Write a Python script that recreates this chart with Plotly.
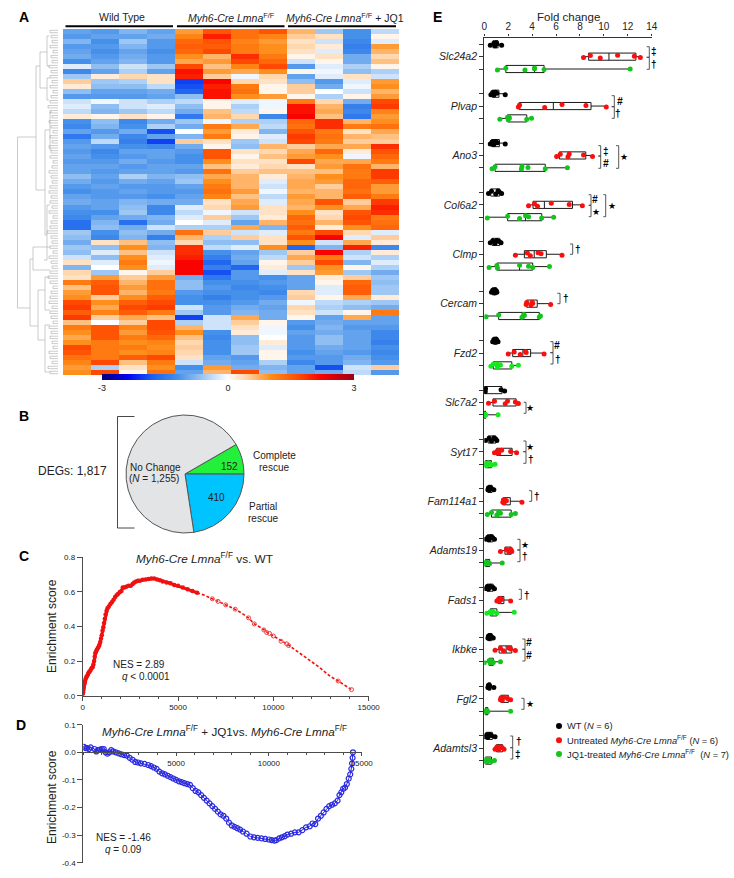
import numpy as np
import plotly.graph_objects as go

W, H = 734, 878
FONT = "Liberation Sans"
INK = "#222222"
AXIS = "#4d4d4d"

# ---------- Panel A: heat map values, one row per band, top to bottom ----------
heat_columns = ["WT1", "WT2", "WT3", "WT4", "M1", "M2", "M3", "M4", "J1", "J2", "J3", "J4"]
heat_rows = [
    [-1.0,-1.1,-0.8,-1.0, 0.9,1.6,1.3,1.6, 0.7,-0.6,-1.2,-0.4],
    [-1.1,-1.0,-1.0,-0.9, 1.1,2.0,1.3,1.1, 0.5,0.3,-1.2,0.1],
    [-0.8,-1.2,-0.6,-1.1, 1.4,1.6,1.1,0.9, 0.3,-0.3,-1.3,-0.2],
    [-1.1,-1.1,-0.8,-1.1, 1.5,1.5,1.2,1.0, 0.4,0.2,-1.4,0.9],
    [-1.0,-1.2,-1.0,-1.2, 1.4,1.7,1.2,1.0, 0.3,-0.2,-1.3,0.7],
    [-0.9,-1.1,-0.9,-1.1, 1.0,0.7,1.9,1.2, 0.1,0.3,-0.9,0.4],
    [-1.2,-1.0,-0.8,-1.1, 0.8,0.9,1.7,1.4, -0.3,0.1,-0.9,0.6],
    [-0.2,-0.7,-0.3,-0.6, 1.7,0.6,1.1,1.7, -1.1,-0.2,-0.5,0.1],
    [-1.3,-1.0,-0.5,-1.0, 2.1,0.9,0.8,1.0, 0.1,-0.1,-0.7,-0.5],
    [-0.6,0.2,0.4,0.3, 2.0,0.5,-0.1,0.4, -1.0,-0.2,0.3,-0.3],
    [0.5,-0.6,-0.5,0.3, -2.0,2.2,0.4,0.3, -0.7,-1.1,-0.2,0.9],
    [0.2,-0.7,-0.7,-0.4, -1.9,2.0,1.2,0.1, 0.5,-0.9,-0.1,1.0],
    [-0.7,-1.0,-1.0,-0.9, -1.7,2.1,1.3,0.1, 0.5,0.0,-0.3,0.7],
    [-1.1,-1.1,-1.1,-1.0, -0.7,2.1,1.0,0.9, 0.1,-0.5,0.1,0.9],
    [-0.3,-0.1,-0.3,-0.5, -0.4,0.1,-0.2,-0.1, 1.2,0.4,-0.9,1.7],
    [-0.2,-0.7,-0.3,-0.2, -0.7,0.1,-0.5,-0.1, 2.1,0.7,-1.4,1.8],
    [-0.4,-0.8,-0.6,-0.4, -0.9,0.6,-0.4,0.1, 2.1,0.8,-1.3,1.1],
    [0.2,0.1,0.3,0.1, -1.5,0.7,0.4,-1.3, 2.2,0.6,-1.5,0.9],
    [-1.2,-0.7,-1.3,-0.9, -0.6,-0.1,-0.5,-0.5, 1.4,1.9,0.7,1.0],
    [-1.3,-0.8,-1.2,-0.5, -0.9,1.2,0.8,-0.4, 1.3,1.9,1.2,1.3],
    [-1.0,-1.1,-0.9,-1.9, 0.0,0.9,0.2,-0.8, 1.6,1.2,0.3,0.8],
    [-1.5,-0.9,-1.3,-1.0, -0.8,1.2,0.1,-0.2, 1.8,1.3,0.7,0.6],
    [-1.1,-0.4,-1.4,-2.0, 0.5,0.3,-0.6,-0.3, 1.7,1.2,0.5,0.5],
    [-1.0,-1.1,-1.2,-1.3, -0.9,0.1,-0.7,0.7, 0.5,0.8,0.8,1.9],
    [-1.1,-1.3,-1.0,-1.0, -1.1,1.6,0.3,0.4, 0.8,1.4,0.2,1.6],
    [-1.0,-1.2,-1.1,-1.0, -1.2,1.6,0.1,0.6, 0.9,1.0,-0.1,1.4],
    [-1.1,-1.1,-0.9,-1.1, -1.2,1.0,0.3,0.3, 1.7,0.8,0.8,1.2],
    [-1.0,-1.0,-1.1,-1.0, -1.0,0.6,0.2,0.4, 0.3,0.9,1.3,0.7],
    [-1.0,-1.1,-1.0,-1.0, -1.1,1.3,0.5,0.6, 0.6,0.6,1.2,1.8],
    [-0.7,-1.0,-0.5,-0.8, -0.7,0.8,0.7,0.2, 0.7,1.0,1.2,1.8],
    [-0.9,-1.1,-0.9,-1.0, -0.6,1.0,0.7,-0.2, 0.8,0.9,1.4,1.5],
    [-1.1,-1.0,-1.1,-1.1, -1.0,1.2,0.7,-0.3, 0.8,0.5,1.4,0.9],
    [-1.2,-1.1,-1.0,-1.1, -1.1,1.3,0.9,-0.1, 0.7,0.7,1.3,0.9],
    [-1.0,-1.1,-1.1,-1.2, -1.0,1.1,0.6,-0.4, 0.9,0.7,1.5,1.2],
    [-0.9,-1.0,-0.8,-0.9, -0.9,0.3,0.8,-0.2, 0.8,1.6,0.5,1.8],
    [-1.1,-1.0,-0.7,-1.3, -0.2,0.4,0.9,0.3, 0.7,1.0,0.8,2.0],
    [-1.2,-1.2,-0.6,-1.3, -0.4,-0.1,-0.3,0.3, 1.0,0.3,1.6,1.9],
    [-1.3,-1.0,-0.9,-0.8, -0.2,0.5,-0.6,0.2, 1.4,0.4,1.7,1.2],
    [-1.6,-0.8,-1.6,-0.9, 0.0,-0.2,-1.0,0.7, 1.3,0.7,1.6,1.3],
    [-1.6,-0.7,-0.9,-0.3, -0.5,-0.5,0.8,-0.8, 1.5,0.2,1.0,1.4],
    [-0.6,-1.2,-0.7,-0.9, 1.3,0.5,-0.3,-0.2, 1.2,1.7,0.4,-0.2],
    [-0.7,-1.3,-0.8,-1.4, 0.7,-0.5,0.5,0.3, 1.6,2.2,-0.2,0.5],
    [-0.9,0.3,0.6,-0.7, 0.4,-0.7,-0.7,0.3, 1.0,-0.3,0.8,0.2],
    [-0.6,-0.7,1.0,-0.8, 1.9,-0.4,-0.2,1.0, -1.7,-0.8,2.0,-1.3],
    [-0.7,-0.2,0.6,-0.3, 1.9,-1.2,-1.0,-0.6, 0.5,2.2,-0.5,0.2],
    [-0.3,-0.7,1.0,-0.2, 2.0,-1.4,-0.9,-0.4, 0.8,1.2,-0.3,-0.5],
    [0.3,-0.2,1.2,-0.1, 2.2,-1.7,-1.0,0.1, 0.5,1.7,-0.8,-0.2],
    [-0.8,0.0,1.0,-0.2, 2.2,-1.4,-1.7,0.2, -0.6,1.0,0.1,-0.5],
    [0.4,-0.6,0.1,0.5, 2.2,-1.9,-1.1,-0.2, 0.3,0.9,-0.6,-0.9],
    [0.3,0.9,0.5,0.9, -0.9,-1.5,-1.1,-1.2, -1.0,0.2,0.5,-0.6],
    [1.2,1.5,0.7,1.3, -0.7,-1.2,-1.2,-1.1, -1.0,0.1,1.4,-0.7],
    [0.6,1.6,0.9,1.3, -0.7,-1.1,-1.3,-1.2, -1.0,-0.2,1.5,-0.6],
    [0.9,1.6,0.7,1.2, -1.1,-1.2,-1.2,-1.3, 0.4,-0.2,1.5,-0.6],
    [1.0,0.5,1.0,1.5, -1.2,-1.4,-1.2,-1.1, 0.5,0.1,0.8,0.2],
    [1.7,1.0,1.5,1.7, -1.2,-1.2,-1.1,-0.9, -0.1,-0.4,-0.5,-0.6],
    [1.8,0.8,1.7,1.8, -0.3,-1.1,-0.9,-1.0, 0.4,-0.5,-0.7,-0.9],
    [1.5,1.1,1.5,1.2, -0.6,-1.1,-0.8,-0.9, 0.3,-0.3,0.1,1.2],
    [1.8,0.5,0.8,0.6, -2.0,-0.3,0.8,-0.9, 0.1,-1.0,0.8,-1.0],
    [0.6,0.0,0.5,1.7, -0.5,-0.3,0.5,0.1, -1.1,-0.9,-1.0,-1.0],
    [1.2,1.6,1.1,1.7, 0.7,-0.3,0.3,-0.1, -1.2,-0.8,-1.1,-1.1],
    [1.0,1.6,0.9,1.6, 1.0,-1.2,0.2,-0.1, -1.0,-0.9,-1.0,-1.3],
    [0.8,1.6,1.2,1.4, 0.6,-1.3,-0.7,0.0, -1.1,-0.7,-1.0,-1.3],
    [1.0,1.2,1.0,1.1, 0.4,-1.2,-0.7,0.2, -1.1,-0.7,-1.0,-1.4],
    [1.7,1.2,1.2,1.0, 0.5,-1.2,-0.6,-0.2, -1.1,-0.9,-1.0,-1.2],
    [1.6,1.2,1.0,1.1, 0.4,-1.2,-0.6,0.1, -1.2,-1.0,-1.1,-1.3],
    [1.3,1.2,1.5,1.7, 0.3,-1.0,-1.1,0.1, -1.1,-1.1,-0.9,-1.2],
    [1.1,1.7,0.6,1.2, -0.3,-0.9,-1.0,-0.5, -1.3,-1.1,-0.8,-1.1],
    [0.9,-0.5,0.3,1.0, -1.2,0.9,-0.9,-0.8, -1.0,-1.9,-0.3,0.5],
    [1.0,1.7,0.1,1.3, -1.0,0.7,1.7,-0.7, -1.0,-0.9,-0.4,-1.1],
]
heat_tick_values = [-3, 0, 3]
heat_tick_labels = ["-3", "0", "3"]

# Dendrogram branches: (height, row) pairs in figure pixels, grouped per link
dendro_links = [
    [(36,137),(17.5,137),(17.5,308),(30,308)],
    [(40,66),(36,66),(36,190),(45,190)],
    [(47,52),(40,52),(40,88),(47,88)],
    [(49,36),(47,36),(47,66),(50,66)],
    [(50,78),(47,78),(47,100),(49,100)],
    [(50,130),(45,130),(45,235),(47,235)],
    [(52,112),(50,112),(50,150),(52,150)],
    [(50,205),(47,205),(47,260),(44,260)],
    [(33,259),(30,259),(30,326),(38,326)],
    [(50,247),(33,247),(33,270),(50,270)],
    [(45,290),(38,290),(38,340),(45,340)],
    [(50,277),(45,277),(45,310),(50,310)],
    [(50,325),(45,325),(45,372),(50,372)],
]
dendro_leaf_starts = [
    50,51,52,50,53,51,52,49,51,50,52,50,53,51,50,48,50,52,49,51,53,50,52,49,51,50,53,52,49,51,52,50,49,51,50,
    52,49,53,51,50,47,51,52,50,53,49,51,52,50,48,50,53,51,50,49,52,50,51,53,49,51,50,52,53,49,50,52,48,50,
]

# ---------- Panel B ----------
pie_labels = ["Complete rescue", "Partial rescue", "No change"]
pie_values = [152, 410, 1255]

# ---------- Panel C ----------
c_rank_dense = [0,20,40,60,90,120,160,200,240,280,320,370,420,470,520,560,600,630,660,700,740,790,840,880,920,960,
                1000,1040,1080,1120,1160,1200,1250,1300,1370,1450,1530,1620,1700,1780,1860,1950,2030,2100,2180,2280,
                2400,2520,2620,2700,2800,2900,3000,3150,3300,3450,3600,3750,3900,4050,4200,4400,4600,4800,5000,5250,5500,5750,6000]
c_es_dense = [0.01,0.02,0.035,0.05,0.07,0.085,0.1,0.11,0.115,0.125,0.135,0.14,0.15,0.16,0.165,0.18,0.2,0.225,0.245,0.255,
              0.265,0.275,0.285,0.295,0.31,0.33,0.35,0.375,0.395,0.42,0.445,0.47,0.49,0.505,0.515,0.53,0.54,0.555,0.57,
              0.58,0.59,0.6,0.605,0.625,0.625,0.63,0.635,0.635,0.645,0.655,0.66,0.665,0.665,0.67,0.672,0.675,0.678,0.678,
              0.672,0.668,0.66,0.655,0.65,0.64,0.635,0.625,0.615,0.605,0.595]
c_rank_tail = [6000,6400,6800,7100,7500,7900,8300,8700,9000,9400,9700,10000,10400,10700,11200,11800,12400,13000,13400,14100]
c_es_tail = [0.595,0.58,0.56,0.545,0.525,0.505,0.48,0.45,0.415,0.39,0.365,0.345,0.315,0.3,0.26,0.215,0.165,0.11,0.085,0.035]
c_tail_markers_rank = [6800,7100,7500,8000,8700,9000,9500,9650,9800,10000,10400,10700,10800,13400,14100]
c_tail_markers_es = [0.56,0.545,0.525,0.5,0.45,0.415,0.38,0.365,0.36,0.345,0.315,0.3,0.29,0.085,0.035]

# ---------- Panel D ----------
d_rank = [30,120,200,300,400,600,700,800,900,1000,1100,1200,1300,1400,1500,1600,1750,1900,2050,2200,2350,2500,2650,2800,
          2950,3100,3300,3500,3650,3800,3950,4100,4250,4400,4550,4700,4850,5000,5150,5300,5450,5600,5750,5900,6050,6200,
          6350,6500,6650,6800,6950,7100,7250,7400,7550,7700,7850,8000,8150,8300,8450,8600,8800,9000,9200,9400,9600,9800,
          10000,10150,10300,10400,10550,10700,10850,11000,11200,11400,11600,11800,12000,12200,12350,12500,12650,12800,
          12950,13100,13250,13400,13550,13700,13800,13900,14000,14100,14200,14300,14380,14440,14480,14510,14530]
d_es = [0.02,0.015,0.015,0.012,0.018,0.012,0.003,0.008,0.01,0.012,0.012,0.0,-0.005,0.0,0.008,0.003,0.0,-0.004,-0.007,-0.01,
        -0.012,-0.02,-0.027,-0.035,-0.037,-0.04,-0.042,-0.046,-0.05,-0.055,-0.06,-0.07,-0.076,-0.08,-0.085,-0.09,-0.095,
        -0.1,-0.105,-0.108,-0.112,-0.115,-0.118,-0.13,-0.14,-0.145,-0.155,-0.165,-0.175,-0.185,-0.195,-0.205,-0.215,-0.225,
        -0.23,-0.24,-0.255,-0.265,-0.27,-0.275,-0.28,-0.287,-0.295,-0.305,-0.308,-0.31,-0.312,-0.314,-0.316,-0.318,-0.32,
        -0.318,-0.312,-0.308,-0.304,-0.298,-0.295,-0.29,-0.29,-0.282,-0.272,-0.268,-0.258,-0.26,-0.24,-0.23,-0.218,-0.205,
        -0.195,-0.19,-0.185,-0.175,-0.155,-0.145,-0.132,-0.128,-0.115,-0.095,-0.08,-0.06,-0.04,-0.02,0.0]

# ---------- Panel E ----------
genes = ["Slc24a2","Plvap","Ano3","Col6a2","Clmp","Cercam","Fzd2","Slc7a2","Syt17","Fam114a1","Adamts19","Fads1","Ikbke","Fgl2","Adamtsl3"]
wt_values = [
    [0.5,0.8,0.9,1.0,1.05,1.45],[0.55,0.7,0.8,0.95,1.05,1.75],[0.5,0.65,0.8,0.95,1.1,1.75],[0.35,0.6,0.95,1.15,1.25,1.45],
    [0.5,0.7,0.9,1.05,1.25,1.4],[0.6,0.7,0.85,0.9,1.0,1.05],[0.7,0.8,0.9,1.0,1.05,1.15],[0.02,0.05,0.08,0.1,1.4,1.7],
    [0.1,0.4,0.6,0.8,0.95,1.05],[0.3,0.35,0.4,0.5,0.6,0.8],[0.15,0.3,0.4,0.55,0.7,0.85],[0.15,0.25,0.35,0.5,0.7,0.85],
    [0.3,0.35,0.4,0.5,0.6,0.75],[0.3,0.35,0.4,0.4,0.45,0.8],[0.1,0.2,0.3,0.45,0.6,0.9],
]
untreated_values = [
    [8.3,8.87,9.7,11.15,12.55,13.05],[2.85,2.95,5.05,6.5,8.5,10.2],[6.05,6.35,7.0,7.1,8.3,9.05],[3.7,4.2,4.45,5.6,7.1,8.2],
    [2.6,3.6,3.85,4.5,4.75,6.5],[3.5,3.55,3.9,4.0,4.05,5.55],[2.0,2.5,3.0,3.45,3.5,5.0],[0.35,0.85,1.75,1.95,2.6,2.85],
    [0.85,1.1,1.2,1.45,2.2,2.7],[1.55,1.6,1.65,1.7,1.85,3.15],[1.35,1.85,2.05,2.2,2.25,2.3],[1.05,1.2,1.25,1.35,1.45,2.2],
    [0.9,1.35,1.6,2.05,2.2,2.6],[1.35,1.4,1.5,1.65,1.95,2.2],[0.9,1.05,1.2,1.35,1.5,1.65],
]
jq1_values = [
    [1.1,1.8,3.4,4.2,4.2,5.0,12.2],[1.3,1.95,2.0,2.05,2.1,3.55,3.95],[0.65,0.9,3.1,3.15,3.65,5.1,6.95],[0.25,1.95,2.95,3.45,3.7,4.8,5.8],
    [0.4,1.05,1.1,2.95,3.7,4.05,5.45],[0.15,1.2,3.15,3.3,3.35,4.6,4.7],[0.55,0.75,1.1,1.1,1.35,2.3,2.85],[0.0,0.02,0.05,0.05,0.1,0.1,1.15],
    [0.0,0.1,0.2,0.35,0.5,0.6,0.9],[0.25,0.6,1.05,1.2,1.35,2.25,2.6],[0.0,0.1,0.15,0.2,0.35,0.45,1.5],[0.2,0.5,0.6,0.65,0.75,1.05,2.5],
    [0.0,0.4,0.5,0.55,0.6,0.75,1.35],[0.05,0.1,0.15,0.2,0.25,0.3,2.2],[0.0,0.1,0.2,0.3,0.4,0.6,0.85],
]
jq1_colors = ["#14c41e","#14c41e","#14c41e","#14c41e","#14c41e","#14c41e","#16e820","#16e820","#16e820","#14c41e","#14c41e","#16e820","#14c41e","#16c81e","#14c41e"]
fold_ticks = [0,2,4,6,8,10,12,14]

def px(x): return x / W
def py(y): return 1 - y / H

annotations, shapes = [], []

def text(x, y, s, size=10, anchor="center", color=INK, angle=0):
    annotations.append(dict(x=px(x), y=py(y), xref="paper", yref="paper", text=s, showarrow=False,
                            xanchor=anchor, yanchor="middle", textangle=angle, borderpad=0, borderwidth=0,
                            font=dict(family=FONT, size=size, color=color)))

def seg(x0, y0, x1, y1, color=INK, width=1):
    shapes.append(dict(type="line", xref="paper", yref="paper", x0=px(x0), y0=py(y0), x1=px(x1), y1=py(y1),
                       line=dict(color=color, width=width)))

def bracket(xl, xr, y0, y1, color="#444444"):
    shapes.append(dict(type="path", xref="paper", yref="paper",
                       path=f"M {px(xl)} {py(y0)} L {px(xr)} {py(y0)} L {px(xr)} {py(y1)} L {px(xl)} {py(y1)}",
                       line=dict(color=color, width=0.9)))

fig = go.Figure()

# overlay axes in figure pixels for the dendrogram
dx, dy = [], []
for link in dendro_links:
    for a, b in link:
        dx.append(a); dy.append(b)
    dx.append(None); dy.append(None)
row_h = (375 - 29) / len(heat_rows)
for i, start in enumerate(dendro_leaf_starts):
    yc = 29 + (i + 0.5) * row_h
    for off in (-1.2, 1.2):
        dx += [start, 58, None]; dy += [yc + off, yc + off, None]
    dx += [start, start, None]; dy += [yc - 1.2, yc + 1.2, None]
fig.add_trace(go.Scatter(x=dx, y=dy, mode="lines", line=dict(color="#a8a8a8", width=0.6), xaxis="x5", yaxis="y5",
                         hoverinfo="skip", showlegend=False))

# Panel A
fig.add_trace(go.Heatmap(
    z=heat_rows, x=heat_columns, xaxis="x", yaxis="y", zmin=-3, zmax=3,
    colorscale=[[0, "#000078"], [0.10, "#0000f0"], [0.20, "#1a60f0"], [0.30, "#4590ea"], [0.42, "#b0d2f6"],
                [0.5, "#ffffff"], [0.58, "#ffd0a0"], [0.67, "#ff8c18"], [0.78, "#ff4c00"], [0.87, "#f80000"], [1, "#a00018"]],
    colorbar=dict(orientation="h", x=px(228), xanchor="center", y=py(382), yanchor="middle", len=252, lenmode="pixels",
                  thickness=6, thicknessmode="pixels", tickvals=heat_tick_values, ticktext=heat_tick_labels,
                  outlinewidth=0, ticks="", tickfont=dict(family=FONT, size=9, color=INK), ypad=0, xpad=0),
    hoverinfo="skip"))

# Panel B
fig.add_trace(go.Pie(labels=pie_labels, values=pie_values, sort=False, direction="clockwise", rotation=60,
                     marker=dict(colors=["#22f03a", "#00c4ff", "#e3e4e6"], line=dict(color="#555555", width=1)),
                     textinfo="none", showlegend=False, hoverinfo="skip",
                     domain=dict(x=[px(126), px(244)], y=[py(533), py(415)])))

# Panel C
fig.add_trace(go.Scatter(x=c_rank_dense, y=c_es_dense, mode="lines+markers", xaxis="x2", yaxis="y2",
                         line=dict(color="#f01010", width=3),
                         marker=dict(symbol="circle", size=4.5, color="#f01010"), showlegend=False, hoverinfo="skip"))
fig.add_trace(go.Scatter(x=c_rank_tail, y=c_es_tail, mode="lines", xaxis="x2", yaxis="y2",
                         line=dict(color="#f01010", width=1.6, dash="3px,2px"), showlegend=False, hoverinfo="skip"))
fig.add_trace(go.Scatter(x=c_tail_markers_rank, y=c_tail_markers_es, mode="markers", xaxis="x2", yaxis="y2",
                         marker=dict(symbol="circle-open", size=4, color="#f04040", line=dict(width=1)),
                         showlegend=False, hoverinfo="skip"))

# Panel D
fig.add_trace(go.Scatter(x=d_rank, y=d_es, mode="lines+markers", xaxis="x3", yaxis="y3",
                         line=dict(color="#2222dd", width=1),
                         marker=dict(symbol="circle-open", size=5, color="#2a2ae0", line=dict(width=1.2)),
                         showlegend=False, hoverinfo="skip"))

# Panel E: rows are evenly spaced, 4 rows per gene (3 groups + a gap)
label_rows, side_rows, label_text = [], [], []
for i, g in enumerate(genes):
    side_rows += [4 * i, 4 * i + 2]
    label_rows.append(4 * i + 1)
    label_text.append(f"<i>{g}</i>")
    groups = [(wt_values[i], "#000000", 0), (untreated_values[i], "#f81010", 1), (jq1_values[i], jq1_colors[i], 2)]
    for vals, col, j in groups:
        q1, med, q3 = np.percentile(vals, [25, 50, 75], method="weibull")
        fig.add_trace(go.Box(y=[4 * i + j], q1=[q1], median=[med], q3=[q3], lowerfence=[min(vals)], upperfence=[max(vals)],
                             orientation="h", xaxis="x4", yaxis="y4", width=0.58, whiskerwidth=0, boxpoints=False,
                             fillcolor="rgba(0,0,0,0)", line=dict(color="#1a1a1a", width=1), showlegend=False, hoverinfo="skip"))
        fig.add_trace(go.Box(x=vals, y=[4 * i + j] * len(vals), orientation="h", xaxis="x4", yaxis="y4",
                             width=0.58, whiskerwidth=0, boxpoints="all", jitter=0.5, pointpos=0,
                             fillcolor="rgba(0,0,0,0)", line=dict(color="rgba(0,0,0,0)", width=0),
                             marker=dict(color=col, size=5, line=dict(width=0)), showlegend=False, hoverinfo="skip"))
# the ticks of the outer two groups in every gene block
fig.add_trace(go.Scatter(x=[None], y=[None], xaxis="x4", yaxis="y6", showlegend=False, hoverinfo="skip"))

# Text: panel letters
for s, x, y in [("A", 24, 17), ("B", 24, 415.5), ("C", 23.5, 556), ("D", 21, 725), ("E", 437.5, 17)]:
    text(x, y, f"<b>{s}</b>", size=14, color="#000000")

# Panel A labels and group bars
MYH = "<i>Myh6-Cre Lmna</i><sup>F/F</sup>"
text(122, 17, "Wild Type", 10.5)
text(231.5, 17, MYH, 10.5)
text(344.5, 17, MYH + " + JQ1", 10.5)
seg(65.5, 26.3, 173, 26.3, "#000000", 2)
seg(177, 26.3, 284.5, 26.3, "#000000", 2)
seg(288, 26.3, 396, 26.3, "#000000", 2)

# Panel B labels
text(72.5, 471, "DEGs: 1,817", 12)
bracket(134.5, 117.5, 416.5, 528, "#333333")
text(155, 467, "No Change", 10)
text(153.5, 479, "(<i>N</i> = 1,255)", 10)
text(229, 466.5, "152", 10)
text(216.5, 497.5, "410", 10)
text(274, 455, "Complete", 10)
text(274, 467, "rescue", 10)
text(262.5, 506, "Partial", 10)
text(262.5, 518.5, "rescue", 10)

# Panel C/D labels
text(204, 558, MYH + " vs. WT", 11.8)
text(52, 626, "Enrichment score", 12, angle=-90)
text(138.5, 664, "NES = 2.89", 10)
text(146, 676, "<i>q</i> &lt; 0.0001", 10)
text(225, 731, MYH + " + JQ1vs. " + MYH, 11.7)
text(52, 797, "Enrichment score", 12, angle=-90)
text(123, 837, "NES = -1.46", 10)
text(123, 849, "<i>q</i> = 0.09", 10)

# Panel E labels
text(568, 17, "Fold change", 11.5)
for b in [(646.7,649.3,46.7,57.3),(646.7,649.3,57.3,69.3),(611.7,614.3,95.7,106.7),(611.7,614.3,106.7,118.3),
          (598.3,600.7,145.7,156),(598.3,600.7,156,168.3),(616,618.7,145.7,168.3),(588.7,591,194.7,205.3),(588.7,591,205.3,216.7),
          (603.3,605.7,194.7,216.7),(570,572.7,244,254.3),(557.3,560,293.3,303.7),(550.3,553,341.7,352.7),(550.3,553,352.7,364),
          (523.7,526,402.3,413.3),(523.3,526,441,451.7),(523.3,526,451.7,463.3),(529,531.7,490.7,501.3),(517.3,520,539.3,550),
          (517.3,520,550,561.7),(518.7,521.3,589.3,599.3),(522.3,525,639,649.3),(522.3,525,649.3,661),(521.3,524,698.3,709.3),
          (510.3,512.7,736,747.7),(510.3,512.7,747.7,759)]:
    bracket(*b)
for x, y, s in [(654,51.7,"‡"),(654,64.3,"†"),(620,101,"<i>#</i>"),(618.3,113,"†"),(605.7,151,"‡"),(605.7,163.7,"<i>#</i>"),
                (623.7,156.7,"★"),(595,199,"<i>#</i>"),(595.7,212,"★"),(611.7,205.7,"★"),(578.3,249.3,"†"),(565.7,298,"†"),
                (557.3,346,"<i>#</i>"),(558,359,"†"),(529.7,408,"★"),(529.7,447.3,"★"),(531.3,459.3,"†"),(536.7,496.7,"†"),
                (524.7,545.3,"★"),(524.7,556,"†"),(526.7,595,"†"),(529,642.7,"<i>#</i>"),(529,655.3,"<i>#</i>"),
                (529.7,704.3,"★"),(519,741.7,"†"),(518.3,754,"‡")]:
    text(x, y, s if s == "★" else f"<b>{s}</b>", 8.5 if s == "★" else 10, color="#000000")

# Legend
for y, col, s in [(726, "#000000", "WT (<i>N</i> = 6)"),
                  (740.3, "#f81010", "Untreated " + MYH + " (<i>N</i> = 6)"),
                  (754, "#14c41e", "JQ1-treated " + MYH + "  (<i>N</i> = 7)")]:
    shapes.append(dict(type="circle", xref="paper", yref="paper", x0=px(556), x1=px(562), y0=py(y + 3), y1=py(y - 3),
                       fillcolor=col, line=dict(width=0)))
    text(566.7, y, s, 9.3, anchor="left")

hidden = dict(visible=False, showgrid=False, zeroline=False)
tick_font = dict(family=FONT, size=8, color=INK)
ax = dict(showgrid=False, zeroline=False, showline=True, linecolor=AXIS, linewidth=1, ticks="outside",
          tickcolor=AXIS, tickwidth=1, tickfont=tick_font)
minor = dict(dtick=1000, ticks="outside", ticklen=2, tickcolor=AXIS, tickwidth=1, showgrid=False)
E_TOP = 37.5
E_RANGE = [58.6, (E_TOP - 44.3) / 12.35]

fig.update_layout(
    width=W, height=H, margin=dict(l=0, r=0, t=0, b=0, autoexpand=False), autosize=False,
    paper_bgcolor="white", plot_bgcolor="rgba(0,0,0,0)", boxmode="overlay",
    font=dict(family=FONT, color=INK), annotations=annotations, shapes=shapes,
    xaxis=dict(domain=[px(63), px(399)], **hidden),
    yaxis=dict(domain=[py(375), py(29)], autorange="reversed", **hidden),
    xaxis2=dict(domain=[px(82.7), px(368.7)], range=[0, 15000], dtick=5000, tickformat="d", ticklen=4, minor=minor, anchor="y2", automargin=False, **ax),
    yaxis2=dict(domain=[py(695.7), py(557.3)], range=[0, 0.8], tickvals=[0, 0.2, 0.4, 0.6, 0.8],
                ticktext=["0.0", "0.2", "0.4", "0.6", "0.8"], ticklen=5, anchor="x2", automargin=False, **ax),
    xaxis3=dict(domain=[px(83.3), px(361.7)], range=[0, 15000], tickvals=[5000, 10000, 15000], tickformat="d", ticklen=3, minor=minor,
                anchor="free", position=py(752.3), automargin=False, **ax),
    yaxis3=dict(domain=[py(862.7), py(724.7)], range=[-0.4, 0.1], tickvals=[0.1, 0, -0.1, -0.2, -0.3, -0.4],
                ticktext=["0.1", "0.0", "-0.1", "-0.2", "-0.3", "-0.4"], ticklen=5, anchor="x3", automargin=False, **ax),
    xaxis4=dict(domain=[px(484.3), px(651.7)], range=[0, 14], tickvals=fold_ticks, side="top", anchor="y4", ticks="outside",
                ticklen=2, showgrid=False, zeroline=False, showline=True, linecolor="#333333", linewidth=1.2, tickcolor="#333333",
                automargin=False, tickfont=dict(family=FONT, size=10, color=INK)),
    yaxis4=dict(domain=[py(768), py(E_TOP)], range=E_RANGE, tickvals=label_rows, ticktext=label_text, anchor="x4",
                ticks="outside", ticklen=4, showgrid=False, zeroline=False, showline=True, linecolor="#333333", linewidth=1.4,
                tickcolor="#333333", automargin=False, tickfont=dict(family=FONT, size=10.5, color=INK)),
    yaxis6=dict(domain=[py(768), py(E_TOP)], range=E_RANGE, tickvals=side_rows, showticklabels=False, anchor="x4",
                overlaying="y4", ticks="outside", ticklen=4, showgrid=False, zeroline=False, showline=False, tickcolor="#333333"),
    xaxis5=dict(domain=[0, 1], range=[0, W], anchor="y5", **hidden),
    yaxis5=dict(domain=[0, 1], range=[H, 0], anchor="x5", **hidden),
)

fig.write_html("out.html", config={"displayModeBar": False}, post_script="document.body.style.margin='0';")
